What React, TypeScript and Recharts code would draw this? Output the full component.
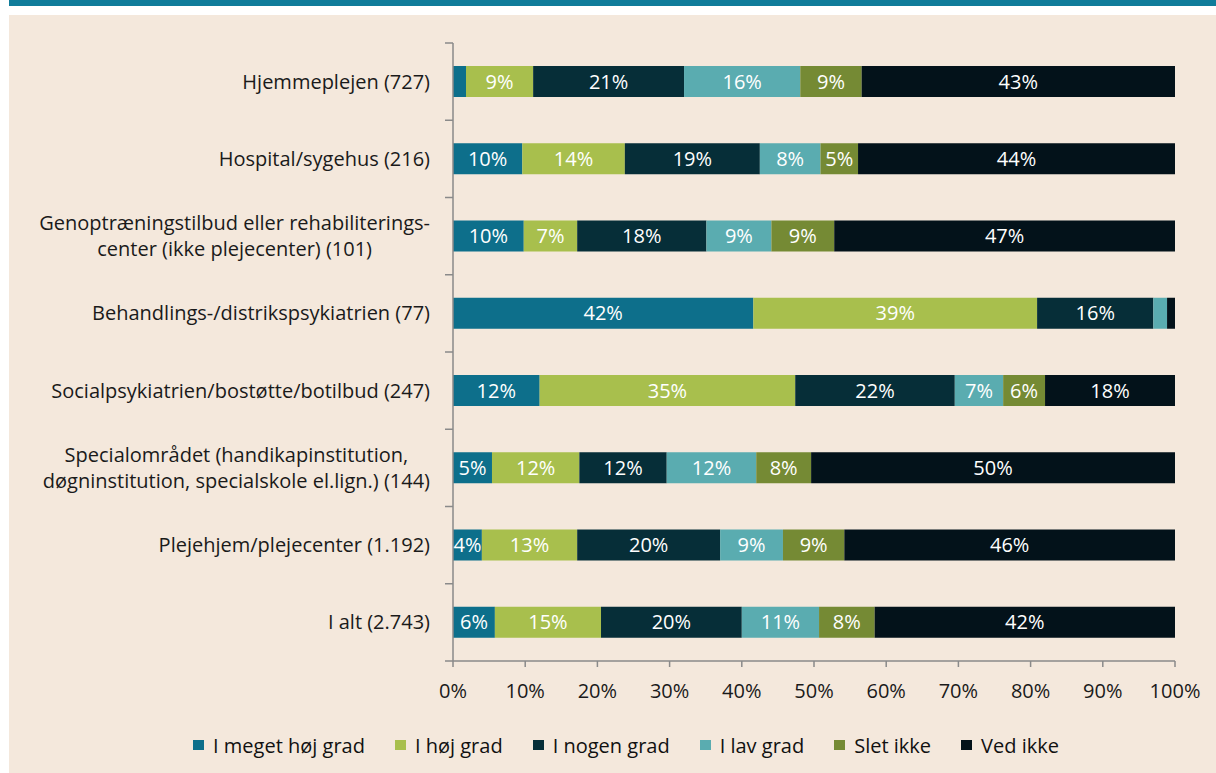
import React from 'react';
import { BarChart, Bar, XAxis, YAxis, LabelList } from 'recharts';

const categories = [
  'Hjemmeplejen (727)',
  'Hospital/sygehus (216)',
  'Genoptræningstilbud eller rehabiliterings-\ncenter (ikke plejecenter) (101)',
  'Behandlings-/distrikspsykiatrien (77)',
  'Socialpsykiatrien/bostøtte/botilbud (247)',
  'Specialområdet (handikapinstitution,\ndøgninstitution, specialskole el.lign.) (144)',
  'Plejehjem/plejecenter (1.192)',
  'I alt (2.743)',
];
const meget = [1.8, 9.6, 9.8, 41.6, 12.0, 5.4, 4.0, 5.8];
const hoej = [9.3, 14.2, 7.4, 39.3, 35.4, 12.1, 13.2, 14.7];
const nogen = [20.9, 18.7, 17.9, 16.1, 22.1, 12.1, 19.8, 19.5];
const lav = [16.1, 8.4, 9.0, 1.9, 6.7, 12.4, 8.7, 10.7];
const slet = [8.5, 5.2, 8.7, 0, 5.8, 7.6, 8.5, 7.7];
const vedIkke = [43.4, 43.9, 47.2, 1.1, 18.0, 50.4, 45.8, 41.6];
const xTicks = [0, 10, 20, 30, 40, 50, 60, 70, 80, 90, 100];

const seriesNames = ['I meget høj grad', 'I høj grad', 'I nogen grad', 'I lav grad', 'Slet ikke', 'Ved ikke'];
const seriesKeys = ['meget', 'hoej', 'nogen', 'lav', 'slet', 'vedIkke'];
const seriesColors = ['#0d6f8b', '#a8bf4d', '#062e38', '#5aacb0', '#758a34', '#03121a'];

const data = categories.map((c, i) => ({
  name: c,
  meget: meget[i],
  hoej: hoej[i],
  nogen: nogen[i],
  lav: lav[i],
  slet: slet[i],
  vedIkke: vedIkke[i],
}));

const FONT = "'Open Sans', sans-serif";
const FS = 20;
const W = 1216;
const H = 773;
const X_AXIS_H = 30;
const MARGIN = { top: 43, right: 41, bottom: 82, left: 0 };
const Y_W = 453;
const BAND = (H - MARGIN.top - MARGIN.bottom - X_AXIS_H) / categories.length;

let ctx: CanvasRenderingContext2D | null = null;
function measure(text: string, size: number): number {
  if (!ctx) {
    const c = document.createElement('canvas');
    ctx = c.getContext('2d');
  }
  if (!ctx) return text.length * size * 0.55;
  ctx.font = `${size}px 'Open Sans', sans-serif`;
  return ctx.measureText(text).width;
}

const YTick = (props: any) => {
  const { x, y, payload, index } = props;
  const ax = x + 8;
  const lines: string[] = String(payload.value).split('\n');
  const right = ax - 23;
  let texts;
  if (lines.length === 1) {
    texts = (
      <text x={right} y={y} dy="0.35em" textAnchor="end" fontSize={FS} fontFamily={FONT} fill="#1a1a1a">
        {lines[0]}
      </text>
    );
  } else {
    const maxW = Math.max(...lines.map((l) => measure(l, FS)));
    const cx = right - maxW / 2;
    texts = (
      <text textAnchor="middle" fontSize={FS} fontFamily={FONT} fill="#1a1a1a">
        {lines.map((l, i) => (
          <tspan key={i} x={cx} y={y + (i - (lines.length - 1) / 2) * 26} dy="0.35em">
            {l}
          </tspan>
        ))}
      </text>
    );
  }
  return (
    <g>
      <line x1={ax - 8} x2={ax} y1={y - BAND / 2} y2={y - BAND / 2} stroke="#8a8a8a" strokeWidth={1.5} />
      {index === categories.length - 1 && (
        <line x1={ax - 8} x2={ax} y1={y + BAND / 2} y2={y + BAND / 2} stroke="#8a8a8a" strokeWidth={1.5} />
      )}
      {texts}
    </g>
  );
};

const fmt = (v: any) => (typeof v === 'number' && v >= 3 ? `${Math.round(v)}%` : '');

export default function App() {
  return (
    <div style={{ position: 'absolute', left: 0, top: 0, width: W, height: H, background: '#ffffff', overflow: 'hidden' }}>
      <div style={{ position: 'absolute', left: 9, top: 0, width: W - 9, height: 6, background: '#107c9a' }} />
      <div style={{ position: 'absolute', left: 9, top: 15, width: W - 9, height: H - 15, background: '#f4e8dc' }} />
      <div style={{ position: 'absolute', left: 0, top: 0 }}>
        <BarChart width={W} height={H} data={data} layout="vertical" margin={MARGIN} barSize={31}>
          <XAxis
            type="number"
            domain={[0, 100]}
            ticks={xTicks}
            tickFormatter={(v) => `${v}%`}
            axisLine={{ stroke: '#8a8a8a', strokeWidth: 1.5 }}
            tickLine={{ stroke: '#8a8a8a', strokeWidth: 1.5 }}
            tickSize={6}
            tickMargin={17}
            height={X_AXIS_H}
            tick={{ fontSize: FS, fontFamily: FONT, fill: '#1a1a1a' }}
            interval={0}
          />
          <YAxis
            type="category"
            dataKey="name"
            width={Y_W}
            axisLine={{ stroke: '#8a8a8a', strokeWidth: 1.5 }}
            tickLine={false}
            tick={<YTick />}
            interval={0}
          />
          {seriesKeys.map((k, i) => (
            <Bar key={k} dataKey={k} name={seriesNames[i]} stackId="a" fill={seriesColors[i]} isAnimationActive={false}>
              <LabelList
                dataKey={k}
                position="center"
                formatter={fmt}
                fill="#ffffff"
                fontSize={FS}
                fontFamily={FONT}
              />
            </Bar>
          ))}
        </BarChart>
      </div>
      <div
        style={{
          position: 'absolute',
          left: 0,
          width: 1252,
          top: 733,
          height: 24,
          display: 'flex',
          justifyContent: 'center',
          alignItems: 'center',
          gap: 30,
          fontFamily: FONT,
          fontSize: FS,
          color: '#111111',
        }}
      >
        {seriesNames.map((n, i) => (
          <div key={n} style={{ display: 'flex', alignItems: 'center' }}>
            <span style={{ display: 'inline-block', width: 11, height: 10, background: seriesColors[i], marginRight: 9 }} />
            <span>{n}</span>
          </div>
        ))}
      </div>
    </div>
  );
}
